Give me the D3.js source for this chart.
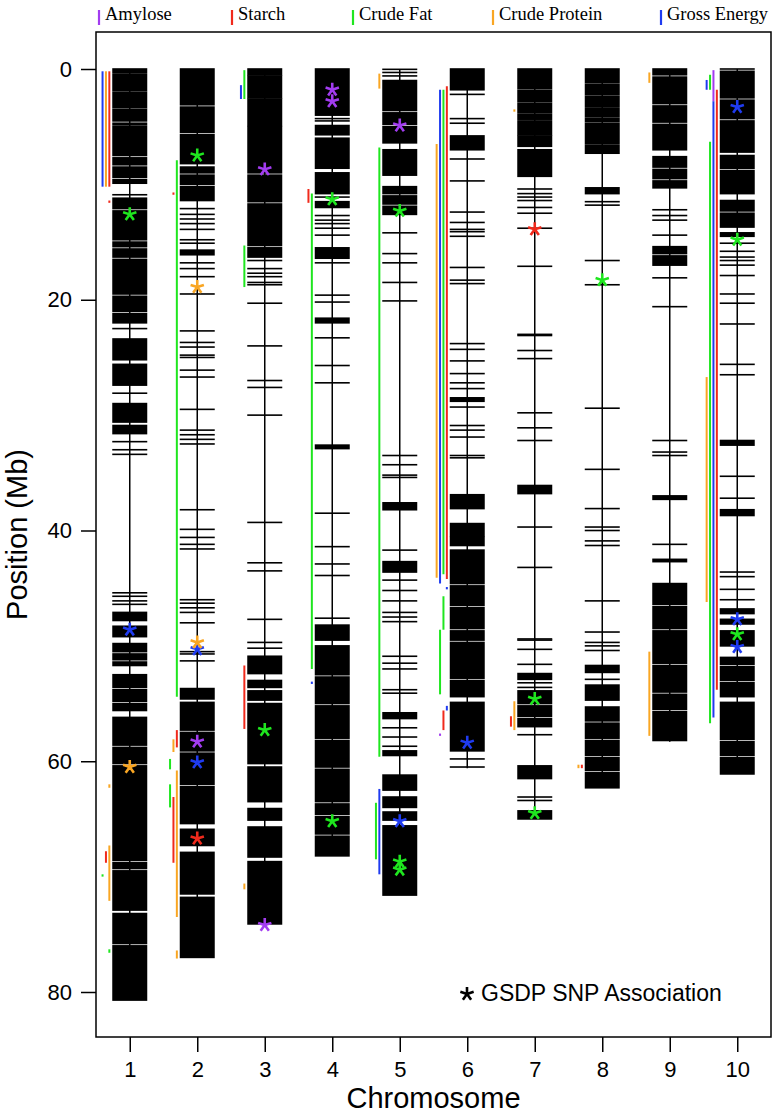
<html>
<head>
<script src="https://d3js.org/d3.v7.min.js"></script>
<style>
  body { margin: 0; background: #fff; }
  text { font-family: "Liberation Sans", Arial, sans-serif; }
</style>
</head>
<body>
<svg id="chart" width="774" height="1117"></svg>
<script>
// ---- data ----
const chromosomes = [1, 2, 3, 4, 5, 6, 7, 8, 9, 10];
const chrLength = [80.7, 77.0, 74.1, 68.2, 71.6, 60.6, 65.0, 62.3, 58.3, 61.1];

const traits = ["Amylose", "Starch", "Crude Fat", "Crude Protein", "Gross Energy"];
const traitColors = ["#a23cf0", "#f02a1c", "#1fe61f", "#f9a623", "#1f3bf0"];

const yTicks = [0, 20, 40, 60, 80];

// dense SNP regions per chromosome, [start, end] in Mb
const markerBlocks = [
  [[0,0.35],[0.5,1.9],[2.05,3.35],[3.5,4.5],[4.7,4.85],[5.0,7.5],[7.7,8.3],[8.5,9.4],[9.6,9.9],[11.2,12.1],[12.3,14.8],[15.0,15.4],[15.6,16.3],[16.5,19.5],[19.7,21.0],[21.2,22.0],[23.4,25.2],[25.6,27.4],[29.0,30.6],[30.9,31.6],[47.1,47.8],[48.3,49.2],[49.8,50.5],[50.7,51.2],[51.4,51.7],[52.5,53.6],[53.8,54.8],[55.0,55.6],[56.2,58.6],[58.8,60.2],[60.4,68.6],[68.8,69.3],[69.5,72.9],[73.2,75.8],[76.0,80.7]],
  [[0,3.1],[3.3,5.5],[5.7,8.2],[8.5,9.0],[9.2,10.0],[10.2,11.4],[15.7,16.1],[53.7,54.6],[54.9,57.3],[57.5,59.1],[59.3,62.0],[62.2,65.4],[65.9,67.3],[67.9,71.5],[71.8,77.0]],
  [[0,0.5],[0.6,2.5],[2.6,4.9],[5.0,9.0],[9.2,11.5],[11.7,15.3],[15.5,16.3],[50.9,52.4],[53.0,53.6],[53.9,54.7],[55.0,60.2],[60.5,63.5],[64.1,65.1],[65.7,68.3],[68.7,74.1]],
  [[0,4.0],[4.9,5.7],[6.0,8.6],[9.0,10.8],[11.5,12.0],[15.5,16.4],[21.6,22.0],[32.6,32.9],[48.2,49.5],[50.0,52.5],[52.7,55.0],[55.2,58.0],[58.2,60.5],[60.7,63.5],[63.7,64.6],[64.8,66.3],[66.5,68.2]],
  [[1.0,3.6],[3.8,4.8],[5.0,6.4],[7.0,9.2],[10.2,10.8],[11.0,11.7],[11.9,12.6],[37.6,38.2],[42.7,43.6],[55.8,56.3],[59.1,59.5],[61.2,62.5],[63.1,64.0],[64.4,65.1],[65.6,71.6]],
  [[0,1.8],[5.8,7.0],[28.5,28.8],[36.9,38.1],[39.4,40.5],[40.6,41.3],[41.7,44.6],[44.8,46.5],[46.7,48.5],[48.7,49.5],[49.7,52.8],[53.0,54.4],[54.9,59.1]],
  [[0,1.7],[1.85,2.85],[3.0,3.75],[3.9,4.35],[4.5,5.7],[5.8,6.7],[7.0,9.3],[36.1,36.8],[52.4,52.9],[53.9,55.0],[55.2,56.1],[56.3,57.0],[60.4,61.5],[64.3,65.0]],
  [[0,1.2],[1.35,2.2],[2.35,3.3],[3.45,4.1],[4.25,4.55],[4.7,6.5],[6.65,7.3],[10.3,10.8],[51.7,52.3],[53.4,54.7],[55.3,56.5],[56.7,58.0],[58.2,59.5],[59.7,60.8],[61.0,62.3]],
  [[0,0.5],[0.7,3.0],[3.2,4.6],[4.8,7.0],[7.6,8.5],[8.7,9.5],[9.7,10.3],[15.4,16.0],[16.2,17.0],[37.0,37.3],[42.5,42.7],[44.6,46.4],[46.6,48.5],[48.7,51.5],[51.7,54.0],[54.2,55.5],[55.7,58.2]],
  [[0.2,2.5],[2.7,4.3],[4.5,7.2],[7.5,8.6],[8.8,10.8],[11.4,12.3],[12.5,13.7],[14.2,14.5],[32.2,32.6],[38.2,38.7],[46.8,47.2],[47.7,48.1],[48.7,50.0],[51.0,51.6],[51.8,53.0],[53.2,54.4],[54.9,58.1],[58.3,59.5],[59.7,61.1]]
];

// isolated SNPs per chromosome, Mb
const markerTicks = [
  [10.9,22.5,28.1,32.3,33.0,33.4,45.4,45.7,46.1,46.4],
  [12.1,12.6,13.0,13.4,13.9,14.8,15.1,16.8,17.3,18.0,19.5,22.7,23.7,24.1,24.8,25.0,26.1,26.7,29.5,31.3,31.7,32.1,32.5,38.2,39.9,40.6,41.2,41.6,46.0,46.3,46.7,47.1,48.0,50.5,50.7,51.3],
  [16.6,17.3,17.7,18.0,18.5,18.7,20.3,24.0,27.0,27.6,30.0,39.3,42.8,43.5,47.7,49.7,50.2],
  [4.3,4.5,11.1,12.7,13.1,13.4,13.8,14.4,16.8,19.6,20.2,23.3,25.7,27.2,38.5,41.4,42.9,43.9,47.6],
  [0.03,0.3,0.6,14.2,16.0,16.8,18.5,20.1,33.5,34.3,35.2,35.4,41.7,44.3,45.2,46.1,47.1,47.5,47.9,50.9,51.5,52.0,53.8,54.1,57.1,57.9,58.7],
  [2.2,4.3,4.7,7.8,9.7,12.4,13.3,13.9,14.1,14.5,17.2,18.3,18.6,23.8,24.3,25.3,26.4,27.2,27.7,29.3,30.9,31.3,31.9,33.5,33.7,59.8,60.5],
  [10.4,10.8,11.1,11.4,12.0,12.5,13.8,17.1,23.0,23.1,24.4,25.1,29.8,31.1,32.2,39.7,43.2,49.4,49.5,50.3,51.6,53.2,53.6,57.7,63.1,63.4],
  [11.5,11.8,16.6,18.7,29.4,34.7,38.1,39.7,40.0,40.9,41.3,46.1,48.8,49.7,50.0,50.4,52.9],
  [12.2,12.7,13.1,14.4,18.1,20.6,32.2,33.2,33.5,41.2],
  [0,15.1,15.8,16.3,16.6,17.0,17.9,19.5,20.3,22.1,25.6,26.5,35.3,37.2,43.6,44.0,45.1,46.0]
];

// QTL intervals: [chromosome, trait, start Mb, end Mb, lane]
const qtlIntervals = [
  [1,"Gross Energy",0.2,10.2,2],[1,"Crude Protein",0.2,10.2,1],[1,"Starch",0.2,10.2,0],
  [1,"Starch",11.4,11.6,0],[1,"Crude Protein",62.0,62.3,0],[1,"Starch",67.8,68.8,1],
  [1,"Crude Protein",67.3,72.1,0],[1,"Crude Fat",69.8,70.0,2],[1,"Crude Fat",76.3,76.6,0],
  [2,"Crude Fat",7.9,54.4,0],[2,"Starch",10.7,10.9,1],[2,"Starch",57.3,58.8,0],
  [2,"Crude Protein",58.1,59.2,1],[2,"Crude Fat",59.8,60.7,2],[2,"Crude Fat",62.0,64.0,2],
  [2,"Starch",63.1,68.8,1],[2,"Crude Protein",60.8,73.5,0],[2,"Crude Protein",76.4,77.1,0],
  [3,"Crude Fat",0.1,2.6,0],[3,"Gross Energy",1.4,2.6,1],[3,"Crude Fat",15.3,18.9,0],
  [3,"Starch",51.7,57.2,0],[3,"Crude Protein",70.6,71.1,0],
  [4,"Starch",10.4,11.6,1],[4,"Crude Fat",10.8,52.0,0],[4,"Gross Energy",53.1,53.3,0],
  [5,"Crude Protein",0.4,1.7,0],[5,"Crude Fat",6.8,59.6,0],[5,"Gross Energy",62.4,69.8,0],
  [5,"Crude Fat",63.6,68.5,1],
  [6,"Crude Protein",6.5,44.1,3],[6,"Gross Energy",1.8,44.6,2],[6,"Crude Fat",1.8,43.8,1],
  [6,"Starch",1.5,44.2,0],[6,"Gross Energy",44.9,45.1,0],[6,"Crude Fat",45.7,48.6,1],
  [6,"Crude Fat",48.6,54.2,2],[6,"Gross Energy",55.2,55.6,0],[6,"Starch",55.6,57.3,1],
  [6,"Amylose",57.6,57.8,2],
  [7,"Crude Protein",3.5,3.7,0],[7,"Crude Protein",54.8,57.3,0],[7,"Starch",56.1,57.0,1],
  [8,"Crude Protein",60.3,60.6,1],[8,"Starch",60.3,60.6,0],
  [9,"Crude Protein",0.3,1.2,0],[9,"Crude Protein",50.5,57.8,0],
  [10,"Gross Energy",0.95,1.8,3],[10,"Crude Fat",0.5,1.8,2],[10,"Amylose",0.1,2.8,1],
  [10,"Starch",1.8,53.8,0],[10,"Gross Energy",2.8,56.2,1],[10,"Crude Fat",6.3,56.7,2],
  [10,"Crude Protein",26.7,46.2,3]
];

// GSDP SNP associations: [chromosome, trait, Mb]
const gsdpHits = [
  [1,"Crude Fat",12.6],[1,"Gross Energy",48.6],[1,"Crude Protein",60.5],
  [2,"Crude Fat",7.5],[2,"Crude Protein",18.9],[2,"Gross Energy",50.3],[2,"Crude Protein",49.7],
  [2,"Amylose",58.3],[2,"Gross Energy",60.1],[2,"Starch",66.7],
  [3,"Amylose",8.7],[3,"Crude Fat",57.3],[3,"Amylose",74.2],
  [4,"Amylose",1.8],[4,"Amylose",2.8],[4,"Crude Fat",11.3],[4,"Crude Fat",65.2],
  [5,"Amylose",4.9],[5,"Crude Fat",12.3],[5,"Gross Energy",65.2],[5,"Crude Fat",68.7],[5,"Crude Fat",69.4],
  [6,"Gross Energy",58.4],
  [7,"Starch",13.9],[7,"Crude Fat",54.6],[7,"Crude Fat",64.5],
  [8,"Crude Fat",18.3],
  [10,"Gross Energy",3.3],[10,"Crude Fat",14.8],[10,"Gross Energy",47.7],[10,"Crude Fat",49.0],[10,"Gross Energy",50.1]
];

// ---- layout ----
const svg = d3.select("#chart");
const frame = {left: 96, top: 32, right: 771, bottom: 1037};

const x = d3.scaleLinear().domain([0.5, 10.5]).range([frame.left, frame.right]);
const y = d3.scaleLinear().domain([0, 80]).range([69, 992]);
const color = d3.scaleOrdinal().domain(traits).range(traitColors);

const halfW = 17.5;      // half width of chromosome bar
const laneGap = 3.4;     // spacing of QTL lanes

// frame
svg.append("rect")
  .attr("x", frame.left).attr("y", frame.top)
  .attr("width", frame.right - frame.left).attr("height", frame.bottom - frame.top)
  .attr("fill", "none").attr("stroke", "#000").attr("stroke-width", 1.5);

// chromosomes
const chrG = svg.append("g");
chromosomes.forEach((c, i) => {
  const cx = x(c);
  const g = chrG.append("g");
  g.selectAll("rect.block")
    .data(markerBlocks[i]).enter().append("rect")
      .attr("x", cx - halfW)
      .attr("width", halfW * 2)
      .attr("y", d => y(d[0]) - 0.8)
      .attr("height", d => Math.max(1.6, y(d[1]) - y(d[0]) + 1.6))
      .attr("fill", "#000");
  g.selectAll("rect.tick")
    .data(markerTicks[i]).enter().append("rect")
      .attr("x", cx - halfW)
      .attr("width", halfW * 2)
      .attr("y", d => y(d) - 0.8)
      .attr("height", 1.6)
      .attr("fill", "#000");
  g.append("line")
    .attr("x1", cx).attr("x2", cx)
    .attr("y1", y(0)).attr("y2", y(chrLength[i]))
    .attr("stroke", "#000").attr("stroke-width", 1.5);
});

// QTL intervals
svg.append("g").selectAll("line")
  .data(qtlIntervals).enter().append("line")
    .attr("x1", d => x(d[0]) - 20.4 - d[4] * laneGap)
    .attr("x2", d => x(d[0]) - 20.4 - d[4] * laneGap)
    .attr("y1", d => y(d[2]))
    .attr("y2", d => Math.max(y(d[3]), y(d[2]) + 1.5))
    .attr("stroke", d => color(d[1]))
    .attr("stroke-width", 2);

// asterisk path
function asterisk(r) {
  let p = "";
  for (let k = 0; k < 5; k++) {
    const a = (-90 + 72 * k) * Math.PI / 180;
    p += "M0,0L" + (r * Math.cos(a)).toFixed(2) + "," + (r * Math.sin(a)).toFixed(2);
  }
  return p;
}

svg.append("g").selectAll("path")
  .data(gsdpHits).enter().append("path")
    .attr("transform", d => "translate(" + x(d[0]) + "," + y(d[2]) + ")")
    .attr("d", asterisk(7))
    .attr("stroke", d => color(d[1]))
    .attr("stroke-width", 2.6)
    .attr("fill", "none");

// y axis
const yAxis = svg.append("g")
  .attr("transform", "translate(" + frame.left + ",0)")
  .call(d3.axisLeft(y).tickValues(yTicks).tickSize(15).tickPadding(9));
yAxis.select(".domain").remove();
yAxis.selectAll("line").attr("stroke-width", 1.5);
yAxis.selectAll("text").style("font-size", "22px").attr("fill", "#000");

svg.append("text")
  .attr("transform", "translate(27," + ((frame.top + frame.bottom) / 2) + ") rotate(-90)")
  .attr("text-anchor", "middle")
  .style("font-size", "29px")
  .text("Position (Mb)");

// x axis
const xAxis = svg.append("g")
  .attr("transform", "translate(0," + frame.bottom + ")")
  .call(d3.axisBottom(x).tickValues(chromosomes).tickFormat(d3.format("d")).tickSize(15).tickPadding(9));
xAxis.select(".domain").remove();
xAxis.selectAll("line").attr("stroke-width", 1.5);
xAxis.selectAll("text").style("font-size", "22px").attr("fill", "#000");

svg.append("text")
  .attr("x", (frame.left + frame.right) / 2)
  .attr("y", 1108)
  .attr("text-anchor", "middle")
  .style("font-size", "29px")
  .text("Chromosome");

// annotation
svg.append("path")
  .attr("transform", "translate(467,994)")
  .attr("d", asterisk(7))
  .attr("stroke", "#000").attr("stroke-width", 2.6).attr("fill", "none");
svg.append("text")
  .attr("x", 481).attr("y", 1001)
  .style("font-size", "23px")
  .text("GSDP SNP Association");

// legend
const legendX = [99, 232, 353, 493, 661];
const legend = svg.append("g").selectAll("g")
  .data(traits).enter().append("g")
    .attr("transform", (d, i) => "translate(" + legendX[i] + ",0)");
legend.append("line")
  .attr("y1", 10).attr("y2", 25)
  .attr("stroke", d => color(d)).attr("stroke-width", 2.2);
legend.append("text")
  .attr("x", 6).attr("y", 19.5)
  .style("font-family", "'Liberation Serif', 'Times New Roman', serif")
  .style("font-size", "18.5px")
  .text(d => d);
</script>
</body>
</html>
